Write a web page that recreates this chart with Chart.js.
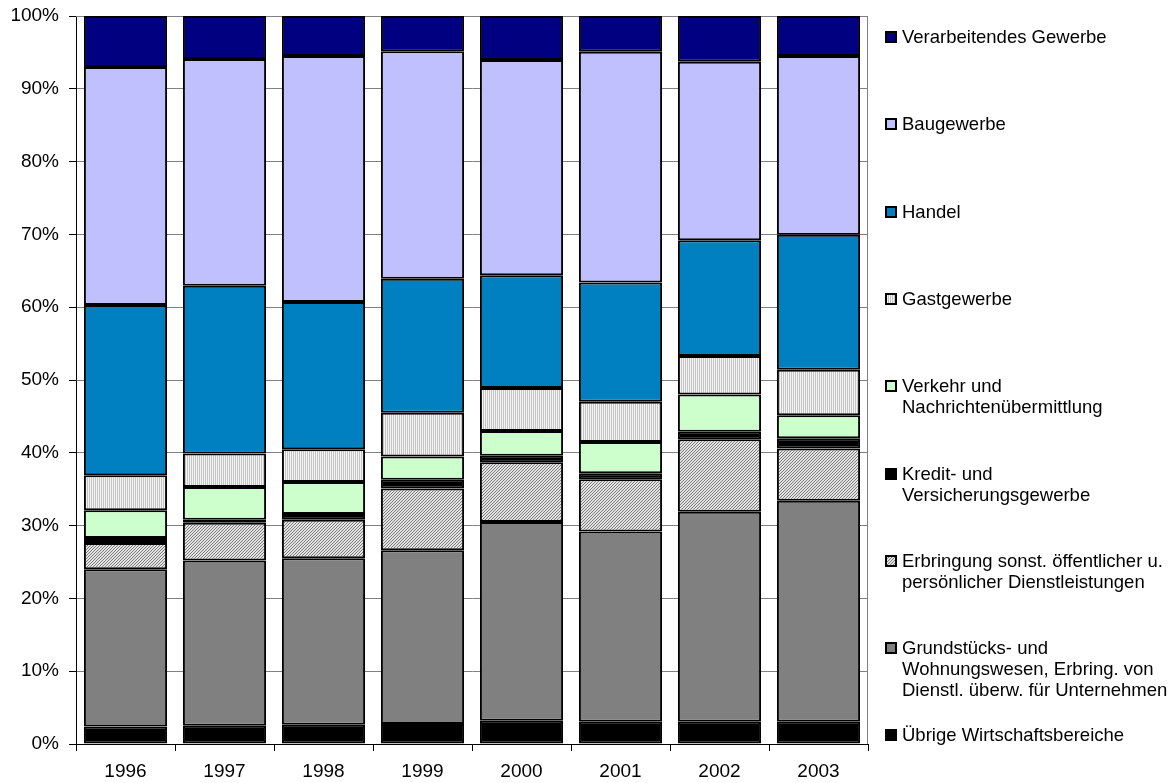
<!DOCTYPE html>
<html>
<head>
<meta charset="utf-8">
<script src="https://cdn.jsdelivr.net/npm/chart.js@4"></script>
<style>
  body { margin: 0; background: #fff; }
  #wrap { position: relative; width: 1175px; height: 783px; }
  #legend { position: absolute; left: 885px; top: 0; font-family: "Liberation Sans", Arial, sans-serif; font-size: 18.5px; color: #000; }
  .item { position: absolute; left: 0; width: 290px; line-height: 21px; }
  .item canvas { position: absolute; left: 0; top: 5px; }
  .item span { display: block; padding-left: 17px; white-space: nowrap; }
</style>
</head>
<body>
<div id="wrap">
  <canvas id="chart" width="1175" height="783"></canvas>
  <div id="legend"></div>
</div>
<script>
const years = ['1996', '1997', '1998', '1999', '2000', '2001', '2002', '2003'];
const yTicks = [0, 10, 20, 30, 40, 50, 60, 70, 80, 90, 100];

// Anteile in %, von unten nach oben gestapelt
const uebrige      = [2.4, 2.5, 2.65, 2.75, 3.2, 3.05, 3.05, 3.05];
const grundstuecks = [21.6, 22.7, 22.85, 23.85, 27.3, 26.15, 28.85, 30.35];
const erbringung   = [3.6, 5.2, 5.3, 8.5, 8.2, 7.15, 9.95, 7.2];
const kredit       = [0.7, 0.4, 0.8, 1.2, 0.9, 0.85, 1.05, 1.4];
const verkehr      = [3.8, 4.5, 4.4, 3.2, 3.4, 4.3, 5.1, 3.15];
const gastgewerbe  = [4.8, 4.6, 4.5, 6.0, 5.9, 5.5, 5.3, 6.25];
const handel       = [23.4, 23.05, 20.2, 18.4, 15.5, 16.4, 15.9, 18.55];
const baugewerbe   = [32.7, 31.15, 33.8, 31.25, 29.55, 31.7, 24.5, 24.55];
const verarbeitend = [7.0, 5.9, 5.5, 4.85, 6.05, 4.9, 6.3, 5.5];

function diagPattern() {
  const c = document.createElement('canvas');
  c.width = 3; c.height = 3;
  const g = c.getContext('2d');
  g.fillStyle = '#e4e4e4';
  g.fillRect(0, 0, 3, 3);
  g.fillStyle = '#7a7a7a';
  for (let i = 0; i < 3; i++) g.fillRect(i, 2 - i, 1, 1);
  return g.createPattern(c, 'repeat');
}

function vertPattern() {
  const c = document.createElement('canvas');
  c.width = 2; c.height = 1;
  const g = c.getContext('2d');
  g.fillStyle = '#f4f4f4';
  g.fillRect(0, 0, 2, 1);
  g.fillStyle = '#c4c4c4';
  g.fillRect(1, 0, 1, 1);
  return g.createPattern(c, 'repeat');
}

const series = [
  { label: ['Übrige Wirtschaftsbereiche'], data: uebrige, color: '#000000' },
  { label: ['Grundstücks- und', 'Wohnungswesen, Erbring. von', 'Dienstl. überw. für Unternehmen'], data: grundstuecks, color: '#808080' },
  { label: ['Erbringung sonst. öffentlicher u.', 'persönlicher Dienstleistungen'], data: erbringung, color: diagPattern() },
  { label: ['Kredit- und', 'Versicherungsgewerbe'], data: kredit, color: '#000000' },
  { label: ['Verkehr und', 'Nachrichtenübermittlung'], data: verkehr, color: '#ccffcc' },
  { label: ['Gastgewerbe'], data: gastgewerbe, color: vertPattern() },
  { label: ['Handel'], data: handel, color: '#0080c0' },
  { label: ['Baugewerbe'], data: baugewerbe, color: '#c0c0ff' },
  { label: ['Verarbeitendes Gewerbe'], data: verarbeitend, color: '#000080' }
];

const frame = {
  id: 'frame',
  beforeDatasetsDraw(chart) {
    const a = chart.chartArea;
    const ctx = chart.ctx;
    ctx.save();
    ctx.strokeStyle = '#808080';
    ctx.lineWidth = 1;
    ctx.beginPath();
    ctx.moveTo(a.left, a.top + 0.5);
    ctx.lineTo(a.right - 0.5, a.top + 0.5);
    ctx.lineTo(a.right - 0.5, a.bottom);
    ctx.stroke();
    ctx.restore();
  }
};

const font = { family: '"Liberation Sans", Arial, sans-serif', size: 19 };

new Chart(document.getElementById('chart'), {
  type: 'bar',
  data: {
    labels: years,
    datasets: series.map(s => ({
      label: s.label.join(' '),
      data: s.data,
      backgroundColor: s.color,
      borderColor: '#000000',
      borderWidth: 2,
      borderSkipped: false,
      barPercentage: 0.84,
      categoryPercentage: 1.0
    }))
  },
  options: {
    responsive: false,
    animation: false,
    layout: { padding: { top: 16, right: 307, left: 0, bottom: 0 } },
    plugins: { legend: { display: false }, tooltip: { enabled: false } },
    scales: {
      x: {
        stacked: true,
        afterFit: s => { s.height = 39; s.paddingLeft = 0; s.paddingRight = 0; },
        grid: { display: true, drawOnChartArea: false, color: '#000000', tickLength: 7, offset: true },
        border: { color: '#000000', width: 1 },
        ticks: { color: '#000000', font: font, padding: 9 }
      },
      y: {
        stacked: true,
        min: 0,
        max: 100,
        afterFit: s => { s.width = 76; s.paddingTop = 0; s.paddingBottom = 0; },
        afterBuildTicks: s => { s.ticks = yTicks.map(v => ({ value: v })); },
        grid: { color: '#808080', tickColor: '#000000', tickLength: 7 },
        border: { color: '#000000', width: 1 },
        ticks: { color: '#000000', font: font, padding: 10, callback: v => v + '%' }
      }
    }
  },
  plugins: [frame]
});

// Legende rechts, oberste Reihe zuerst
const legend = document.getElementById('legend');
series.slice().reverse().forEach((s, i) => {
  const item = document.createElement('div');
  item.className = 'item';
  item.style.top = (26 + i * 87.3) + 'px';
  const sw = document.createElement('canvas');
  sw.width = 12; sw.height = 12;
  const g = sw.getContext('2d');
  g.fillStyle = s.color;
  g.fillRect(0, 0, 12, 12);
  g.strokeStyle = '#000000';
  g.lineWidth = 2;
  g.strokeRect(1, 1, 10, 10);
  item.appendChild(sw);
  s.label.forEach(line => {
    const sp = document.createElement('span');
    sp.textContent = line;
    item.appendChild(sp);
  });
  legend.appendChild(item);
});
</script>
</body>
</html>
